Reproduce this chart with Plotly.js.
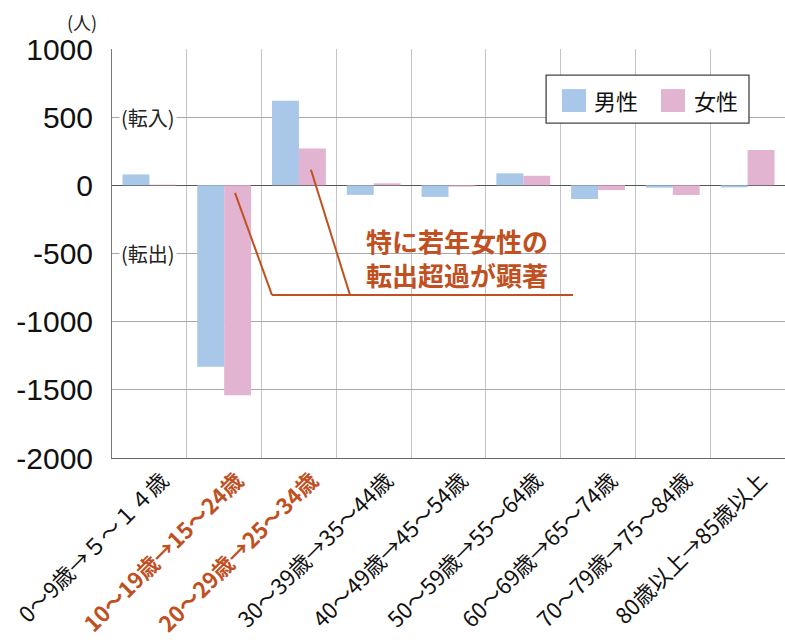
<!DOCTYPE html>
<html>
<head>
<meta charset="utf-8">
<script src="https://cdn.plot.ly/plotly-3.0.1.min.js"></script>
<style>
  html, body { margin: 0; padding: 0; background: #fff; }
  #chart { width: 785px; height: 642px; }
</style>
</head>
<body>
<div id="chart"></div>
<script>
// Net migration by age cohort (persons), men vs women
const categories = [
  "0～9歳→５～１４歳",
  "10～19歳→15～24歳",
  "20～29歳→25～34歳",
  "30～39歳→35～44歳",
  "40～49歳→45～54歳",
  "50～59歳→55～64歳",
  "60～69歳→65～74歳",
  "70～79歳→75～84歳",
  "80歳以上→85歳以上"
];
const highlighted = [1, 2];          // cohorts drawn in accent colour
const maleValues   = [80, -1330, 620, -70, -85, 88, -100, -17, -15];
const femaleValues = [5, -1540, 270, 15, -10, 70, -35, -71, 260];
const seriesNames  = ["男性", "女性"];
const seriesColors = ["#a9c7e8", "#e3b4d1"];
const yTickVals = [1000, 500, 0, -500, -1000, -1500, -2000];

const accent = "#c0501f";
const jp = "'Noto Sans CJK JP', 'Noto Sans', sans-serif";

const tickText = categories.map((c, i) =>
  highlighted.includes(i)
    ? `<span style="color:${accent}"><b>${c}</b></span>`
    : c
);

const traces = [maleValues, femaleValues].map((vals, k) => ({
  type: "bar",
  name: seriesNames[k],
  x: categories,
  y: vals,
  marker: { color: seriesColors[k], line: { width: 0 } },
  hoverinfo: "x+y+name",
  showlegend: false
}));

// Legend box drawn in paper coordinates
const legendShapes = [
  { type: "rect", xref: "paper", yref: "paper", x0: 0.645, x1: 0.9465, y0: 0.819, y1: 0.936,
    line: { color: "#444", width: 1.3 }, fillcolor: "#fff", layer: "above" },
  { type: "rect", xref: "paper", yref: "paper", x0: 0.6686, x1: 0.7043, y0: 0.846, y1: 0.902,
    line: { width: 0 }, fillcolor: seriesColors[0], layer: "above" },
  { type: "rect", xref: "paper", yref: "paper", x0: 0.8157, x1: 0.8514, y0: 0.846, y1: 0.902,
    line: { width: 0 }, fillcolor: seriesColors[1], layer: "above" }
];
const legendLabels = [
  { xref: "paper", yref: "paper", x: 0.713, y: 0.875, xanchor: "left", yanchor: "middle",
    text: seriesNames[0], showarrow: false, font: { family: jp, size: 22, color: "#111" } },
  { xref: "paper", yref: "paper", x: 0.8618, y: 0.875, xanchor: "left", yanchor: "middle",
    text: seriesNames[1], showarrow: false, font: { family: jp, size: 22, color: "#111" } }
];

// Callout leader lines pointing at the young-women bars
const callout = { color: accent, width: 2 };
const calloutShapes = [
  { type: "line", xref: "x", yref: "y", x0: 1.145, y0: -55, x1: 1.64, y1: -805, line: callout, layer: "above" },
  { type: "line", xref: "x", yref: "y", x0: 2.161, y0: 114, x1: 2.683, y1: -805, line: callout, layer: "above" },
  { type: "line", xref: "x", yref: "y", x0: 1.64, y0: -805, x1: 5.665, y1: -805, line: callout, layer: "above" }
];

const annotations = [
  { xref: "paper", yref: "paper", x: -0.045, y: 1.065, xanchor: "center", yanchor: "middle",
    text: "(人)", showarrow: false, font: { family: jp, size: 18, color: "#222" } },
  { xref: "x", yref: "y", x: -0.02, y: 500, xanchor: "center", yanchor: "middle",
    text: "(転入)", showarrow: false, bgcolor: "#fff", borderpad: 1,
    font: { family: jp, size: 20, color: "#222" } },
  { xref: "x", yref: "y", x: -0.02, y: -500, xanchor: "center", yanchor: "middle",
    text: "(転出)", showarrow: false, bgcolor: "#fff", borderpad: 1,
    font: { family: jp, size: 20, color: "#222" } },
  { xref: "x", yref: "y", x: 4.12, y: -528, xanchor: "center", yanchor: "middle",
    text: "<b>特に若年女性の<br>転出超過が顕著</b>", showarrow: false, align: "left",
    font: { family: jp, size: 26, color: accent } },
  ...legendLabels
];

const layout = {
  width: 785,
  height: 642,
  margin: { l: 112, r: 0, t: 49, b: 184 },
  paper_bgcolor: "#fff",
  plot_bgcolor: "#fff",
  barmode: "group",
  bargap: 0.28,
  bargroupgap: 0,
  showlegend: false,
  xaxis: {
    type: "category",
    tickvals: categories,
    ticktext: tickText,
    tickangle: -45,
    tickson: "boundaries",
    ticks: "",
    ticklabelshift: 13,
    showgrid: true,
    gridcolor: "#c4c4c4",
    gridwidth: 1,
    showline: true,
    linecolor: "#666",
    linewidth: 1,
    mirror: false,
    tickfont: { family: jp, size: 22, color: "#111" },
    fixedrange: true
  },
  yaxis: {
    range: [-2000, 1000],
    tickvals: yTickVals,
    ticktext: yTickVals.map(String),
    ticks: "",
    ticklabelstandoff: 12,
    showgrid: true,
    gridcolor: "#a8a8a8",
    gridwidth: 1,
    zeroline: true,
    zerolinecolor: "#555",
    zerolinewidth: 1.3,
    showline: true,
    linecolor: "#777",
    linewidth: 1,
    tickfont: { family: "'Liberation Sans', Arial, sans-serif", size: 30, color: "#111" },
    fixedrange: true
  },
  shapes: [...calloutShapes, ...legendShapes],
  annotations: annotations
};

Plotly.newPlot("chart", traces, layout, { staticPlot: true, displayModeBar: false });
</script>
</body>
</html>
